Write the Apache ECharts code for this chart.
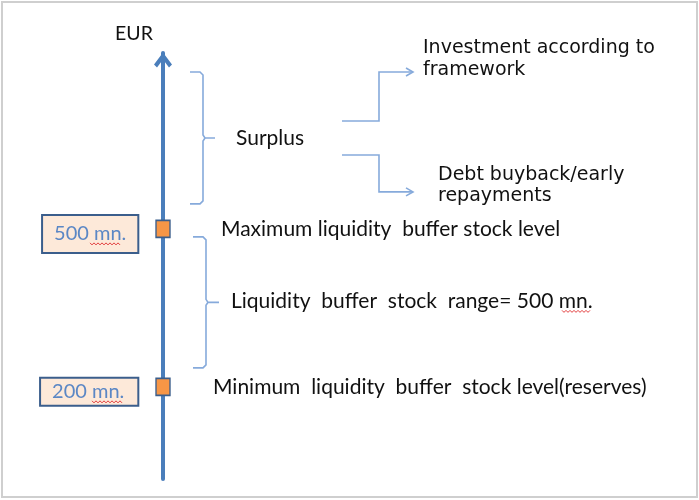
<!DOCTYPE html>
<html>
<head>
<meta charset="utf-8">
<script src="https://cdn.jsdelivr.net/npm/echarts@6/dist/echarts.min.js"></script>
<style>
  html, body { margin: 0; padding: 0; background: #fff; }
  #chart { width: 699px; height: 500px; }
</style>
</head>
<body>
<div id="chart"></div>
<script>
// buffer levels on the EUR axis (mn.)
var levels = [500, 200];
var levelBoxes = ["500 mn.", "200 mn."];
var levelTexts = [
  "Maximum liquidity  buffer stock level",
  "Minimum  liquidity  buffer  stock level(reserves)"
];
var rangeText = "Liquidity  buffer  stock  range= 500 mn.";
var surplusText = "Surplus";
var surplusUses = ["Investment according to\nframework", "Debt buyback/early\nrepayments"];
var axisName = "EUR";
var axisMin = 25, axisMax = 834;

var blue = "#4a7ebb";
var lightBlue = "#86aadb";
var textFont = "Lato, 'Open Sans', sans-serif";
var verdanaFont = "'DejaVu Sans', Verdana, sans-serif";

var chart = echarts.init(document.getElementById("chart"));

var option = {
  animation: false,
  grid: { left: 163, right: 0, top: 53, bottom: 21 },
  xAxis: { type: "value", min: 0, max: 100, show: false },
  yAxis: {
    type: "value",
    min: axisMin,
    max: axisMax,
    name: axisName,
    nameLocation: "end",
    nameGap: 9,
    nameTextStyle: { color: "#111", fontFamily: textFont, fontSize: 19.5, padding: [0, 58, 0, 0] },
    axisLine: {
      show: true,
      lineStyle: { color: blue, width: 4 },
      symbol: ["none", "path://M9 0 L18 12 L15 15 L9 7 L3 15 L0 12 Z"],
      symbolSize: [18, 15],
      symbolOffset: [0, -7]
    },
    axisTick: { show: false },
    axisLabel: { show: false },
    splitLine: { show: false }
  },
  series: [
    {
      // orange level markers with the value boxes on the left
      type: "scatter",
      z: 5,
      symbol: "rect",
      symbolSize: [14, 17],
      itemStyle: { color: "#f79646", borderColor: "#3b5e8c", borderWidth: 1.5, opacity: 1 },
      emphasis: { disabled: true },
      label: {
        show: true,
        position: "left",
        distance: 18,
        offset: [0, 5],
        color: "#5b87c5",
        fontFamily: textFont,
        fontSize: 20,
        backgroundColor: "#fde9d9",
        borderColor: "#3b5e8c",
        borderWidth: 2,
        formatter: function (p) { return levelBoxes[p.dataIndex]; }
      },
      data: levels.map(function (v, i) {
        return {
          value: [0, v],
          label: { padding: i === 0 ? [8, 11, 8, 11] : [3, 13, 3, 11] }
        };
      })
    },
    {
      // level descriptions on the right
      type: "scatter",
      z: 1,
      symbol: "rect",
      symbolSize: [14, 17],
      itemStyle: { color: "rgba(0,0,0,0)", opacity: 1 },
      emphasis: { disabled: true },
      label: {
        show: true,
        position: "right",
        color: "#111",
        fontFamily: textFont,
        fontSize: 21,
        formatter: function (p) { return levelTexts[p.dataIndex]; }
      },
      data: levels.map(function (v, i) {
        return { value: [0, v], label: { distance: i === 0 ? 51 : 43 } };
      })
    }
  ]
};
chart.setOption(option);

// layout of braces and flow arrows, hung on the axis levels
var yTop = chart.convertToPixel({ yAxisIndex: 0 }, axisMax);
var yHi = chart.convertToPixel({ yAxisIndex: 0 }, levels[0]);
var yLo = chart.convertToPixel({ yAxisIndex: 0 }, levels[1]);

function brace(x0, x1, tip, top, bottom) {
  var mid = (top + bottom) / 2;
  return {
    type: "polyline",
    shape: {
      points: [
        [x0, top], [x1 - 3, top], [x1, top + 3], [x1, mid - 3], [x1 + 2, mid], [tip, mid],
        [x1 + 2, mid], [x1, mid + 3], [x1, bottom - 3], [x1 - 3, bottom], [x0, bottom]
      ]
    },
    style: { stroke: lightBlue, lineWidth: 1.6, fill: null }
  };
}

function squiggle(x, y, w) {
  var pts = [];
  for (var i = 0; i <= w; i += 2) pts.push([x + i, y + (i % 4 === 0 ? 0 : 2)]);
  return { type: "polyline", z: 100, shape: { points: pts }, style: { stroke: "#e23b3b", lineWidth: 1, fill: null } };
}

var sTop = yTop + 19, sBot = yHi - 25, sMid = (sTop + sBot) / 2;
var rTop = yHi + 8, rBot = yLo - 19, rMid = (rTop + rBot) / 2;
var upY = sTop, downY = sBot - 12;

chart.setOption({
  graphic: [
    {
      type: "rect",
      shape: { x: 2, y: 2, width: 695, height: 495 },
      style: { fill: null, stroke: "#cfcfcf", lineWidth: 2 }
    },
    brace(190, 203, 215, sTop, sBot),
    brace(193, 206, 219, rTop, rBot),
    {
      type: "text",
      style: { text: surplusText, x: 236, y: sMid, verticalAlign: "middle", font: "21px " + textFont, fill: "#111" }
    },
    {
      type: "text",
      style: { text: rangeText, x: 231, y: rMid - 1, verticalAlign: "middle", font: "21px " + textFont, fill: "#111" }
    },
    {
      type: "polyline",
      shape: { points: [[342, sMid - 17], [379, sMid - 17], [379, upY], [412, upY]] },
      style: { stroke: lightBlue, lineWidth: 1.6, fill: null }
    },
    {
      type: "polyline",
      shape: { points: [[406, upY - 4], [413, upY], [406, upY + 4]] },
      style: { stroke: lightBlue, lineWidth: 1.6, fill: null }
    },
    {
      type: "polyline",
      shape: { points: [[342, sMid + 17], [379, sMid + 17], [379, downY], [412, downY]] },
      style: { stroke: lightBlue, lineWidth: 1.6, fill: null }
    },
    {
      type: "polyline",
      shape: { points: [[406, downY - 4], [413, downY], [406, downY + 4]] },
      style: { stroke: lightBlue, lineWidth: 1.6, fill: null }
    },
    {
      type: "text",
      style: {
        text: surplusUses[0], x: 423, y: upY - 13, verticalAlign: "middle", lineHeight: 22,
        font: "19px " + verdanaFont, fill: "#111"
      }
    },
    {
      type: "text",
      style: {
        text: surplusUses[1], x: 438, y: downY - 6.5, verticalAlign: "middle", lineHeight: 21,
        font: "19px " + verdanaFont, fill: "#111"
      }
    },
    squiggle(90, yHi + 14, 30),
    squiggle(92, yLo + 14, 30),
    squiggle(562, rMid + 8, 28)
  ]
});
</script>
</body>
</html>
